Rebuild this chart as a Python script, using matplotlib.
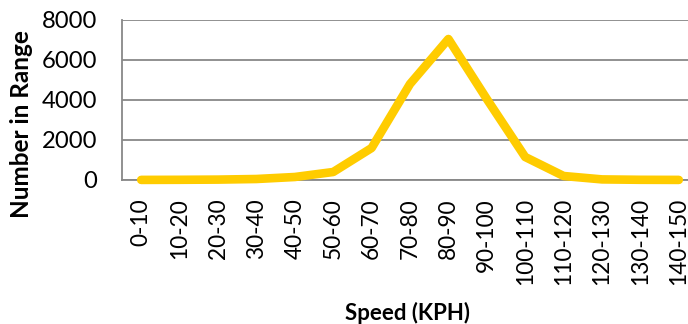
import matplotlib
matplotlib.use("Agg")
import matplotlib.pyplot as plt

categories = ["0-10", "10-20", "20-30", "30-40", "40-50", "50-60", "60-70",
              "70-80", "80-90", "90-100", "100-110", "110-120", "120-130",
              "130-140", "140-150"]
counts = [5, 10, 20, 50, 150, 400, 1600, 4800, 7050, 4050, 1150, 200, 30, 10, 5]
y_ticks = [0, 2000, 4000, 6000, 8000]

plt.rcParams["font.family"] = ["Lato", "DejaVu Sans"]

W, H = 688, 324
fig = plt.figure(figsize=(W / 100, H / 100), dpi=100)
left, right, top, bottom = 122, 698, 20, 180
ax = fig.add_axes([left / W, 1 - bottom / H, (right - left) / W, (bottom - top) / H])

x = list(range(len(categories)))
ax.plot(x, counts, color="#FFCC00", linewidth=6.2, solid_capstyle="round",
        solid_joinstyle="round", clip_on=False, zorder=3)

ax.set_xlim(-0.5, len(categories) - 0.5)
ax.set_ylim(0, 8000)
ax.set_yticks(y_ticks)
ax.set_yticklabels([str(v) for v in y_ticks], fontsize=17.2)
ax.set_xticks(x)
ax.set_xticklabels(categories, rotation=90, fontsize=16.3)
ax.tick_params(axis="y", length=0, pad=18)
ax.tick_params(axis="x", length=0, pad=13)

ax.grid(axis="y", color="#888888", linewidth=1.3)
ax.set_axisbelow(True)
for s in ("top", "right"):
    ax.spines[s].set_visible(False)
for s in ("left", "bottom"):
    ax.spines[s].set_color("#888888")
    ax.spines[s].set_linewidth(1.3)

fig.text(22 / W, 1 - 124 / H, "Number in Range", rotation=90, fontsize=17.5,
         fontweight="bold", ha="center", va="center")
fig.text(407 / W, 1 - 313 / H, "Speed (KPH)", fontsize=16,
         fontweight="bold", ha="center", va="center")

fig.savefig("out.png", dpi=100)
